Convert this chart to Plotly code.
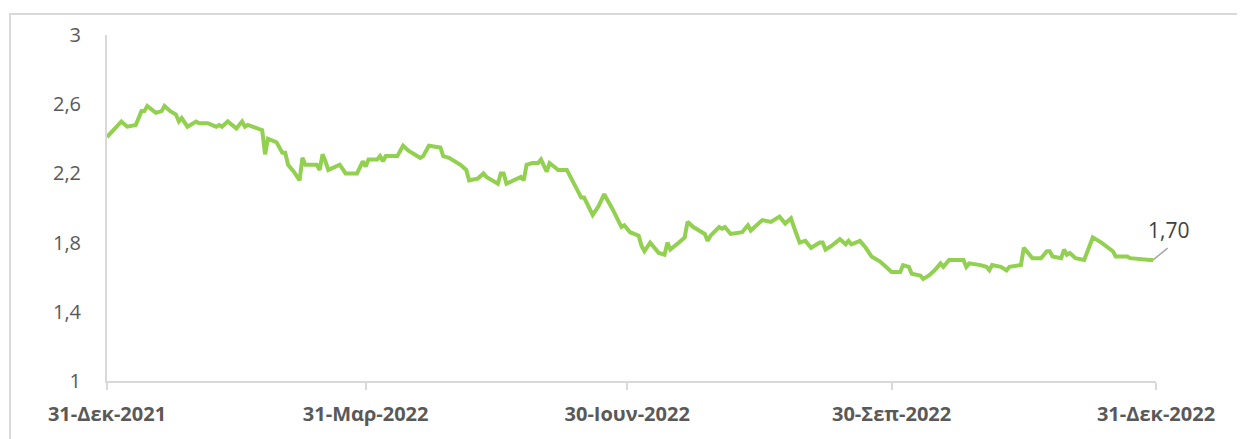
import pandas as pd
import plotly.graph_objects as go

start_date = "2021-12-31"
day_offsets = [
    0, 5, 7, 10, 12, 13, 14, 17, 19, 20,
    22, 24, 25, 26, 28, 31, 32, 34, 35, 38,
    39, 40, 42, 45, 47, 48, 49, 54, 55, 56,
    59, 61, 62, 63, 65, 67, 68, 69, 73, 74,
    75, 76, 77, 81, 83, 87, 89, 90, 91, 94,
    95, 96, 97, 101, 103, 105, 109, 110, 112, 116,
    117, 119, 123, 125, 126, 129, 131, 132, 136, 137,
    138, 139, 144, 145, 146, 148, 150, 151, 153, 154,
    157, 160, 162, 165, 166, 168, 169, 171, 173, 176,
    179, 180, 182, 185, 186, 187, 189, 192, 194, 195,
    196, 199, 201, 202, 204, 206, 208, 209, 210, 213,
    214, 215, 217, 221, 223, 224, 228, 231, 234, 236,
    238, 239, 241, 243, 245, 248, 249, 250, 252, 255,
    257, 258, 259, 262, 264, 266, 269, 271, 273, 276,
    277, 279, 280, 283, 284, 286, 288, 290, 291, 293,
    298, 299, 300, 304, 306, 307, 308, 311, 313, 314,
    318, 319, 322, 325, 327, 328, 329, 332, 333, 334,
    335, 337, 340, 343, 344, 346, 350, 351, 355, 356,
    363, 364,
]
values = [
    2.41, 2.50, 2.47, 2.48, 2.56, 2.56, 2.59, 2.55, 2.56, 2.59,
    2.56, 2.54, 2.50, 2.52, 2.47, 2.50, 2.49, 2.49, 2.49, 2.47,
    2.48, 2.47, 2.50, 2.46, 2.50, 2.47, 2.48, 2.45, 2.31, 2.40,
    2.38, 2.32, 2.32, 2.25, 2.21, 2.16, 2.29, 2.25, 2.25, 2.22,
    2.31, 2.27, 2.22, 2.25, 2.20, 2.20, 2.27, 2.24, 2.28, 2.28,
    2.30, 2.27, 2.30, 2.30, 2.36, 2.33, 2.29, 2.30, 2.36, 2.35,
    2.30, 2.29, 2.25, 2.22, 2.16, 2.17, 2.20, 2.18, 2.14, 2.20,
    2.20, 2.14, 2.18, 2.16, 2.25, 2.26, 2.26, 2.28, 2.21, 2.26,
    2.22, 2.22, 2.16, 2.06, 2.06, 1.99, 1.96, 2.01, 2.08, 1.99,
    1.89, 1.90, 1.86, 1.84, 1.78, 1.75, 1.80, 1.74, 1.73, 1.80,
    1.76, 1.80, 1.83, 1.92, 1.89, 1.87, 1.85, 1.81, 1.84, 1.89,
    1.88, 1.89, 1.85, 1.86, 1.90, 1.87, 1.93, 1.92, 1.95, 1.91,
    1.94, 1.89, 1.80, 1.81, 1.77, 1.80, 1.80, 1.76, 1.78, 1.82,
    1.79, 1.81, 1.79, 1.81, 1.77, 1.72, 1.69, 1.66, 1.63, 1.63,
    1.67, 1.66, 1.62, 1.61, 1.59, 1.61, 1.64, 1.68, 1.66, 1.70,
    1.70, 1.66, 1.68, 1.67, 1.66, 1.64, 1.67, 1.66, 1.64, 1.66,
    1.67, 1.77, 1.71, 1.71, 1.75, 1.75, 1.72, 1.71, 1.76, 1.73,
    1.74, 1.71, 1.70, 1.83, 1.82, 1.80, 1.75, 1.72, 1.72, 1.71,
    1.70, 1.70,
]

x_tick_dates = ["2021-12-31", "2022-03-31", "2022-06-30", "2022-09-30", "2022-12-31"]
x_tick_labels = ["31-Δεκ-2021", "31-Μαρ-2022", "30-Ιουν-2022", "30-Σεπ-2022", "31-Δεκ-2022"]
y_tick_vals = [1, 1.4, 1.8, 2.2, 2.6, 3]
y_tick_labels = ["1", "1,4", "1,8", "2,2", "2,6", "3"]
last_label = "1,70"

dates = pd.Timestamp(start_date) + pd.to_timedelta(day_offsets, unit="D")

# the page body has an 8px default margin, so the figure is a bit smaller
W, H = 1237, 431
ML, MR, MT, MB = 99, 89, 27, 56
pw = W - ML - MR
ph = H - MT - MB
FONT = "Open Sans, Noto Sans, sans-serif"

fig = go.Figure()
fig.add_trace(go.Scatter(
    x=dates, y=values, mode="lines",
    line=dict(color="#92D050", width=4),
    hoverinfo="skip", showlegend=False,
))

# leader line of the data label
fig.add_annotation(
    x=dates[-1], y=values[-1], text="",
    showarrow=True, arrowhead=0, arrowwidth=1.5, arrowcolor="#A6A6A6",
    ax=16, ay=-13, standoff=0,
)
# data label text
fig.add_annotation(
    x=dates[-1], y=values[-1], text=last_label,
    showarrow=False, xshift=15, yshift=30,
    font=dict(family=FONT, size=21, color="#404040"),
)

# outer chart border
fig.add_shape(
    type="rect", xref="paper", yref="paper",
    x0=(2 - ML) / pw, x1=(W + 20 - ML) / pw,
    y0=-(MB + 20) / ph, y1=1 + (MT - 6) / ph,
    line=dict(color="#D9D9D9", width=2), fillcolor="rgba(0,0,0,0)", layer="below",
)

fig.update_layout(
    width=W, height=H,
    margin=dict(l=ML, r=MR, t=MT, b=MB),
    paper_bgcolor="white", plot_bgcolor="white",
    font=dict(family=FONT, color="#595959"),
    xaxis=dict(
        type="date",
        range=[x_tick_dates[0], x_tick_dates[-1]],
        tickvals=x_tick_dates, ticktext=x_tick_labels,
        showgrid=False, zeroline=False,
        showline=True, linecolor="#D9D9D9", linewidth=2,
        ticks="outside", ticklen=7, tickwidth=2, tickcolor="#D9D9D9",
        tickfont=dict(size=20, color="#595959", family=FONT, weight="bold"),
        ticklabelstandoff=7,
    ),
    yaxis=dict(
        range=[1, 3],
        tickvals=y_tick_vals, ticktext=y_tick_labels,
        showgrid=False, zeroline=False,
        showline=True, linecolor="#D9D9D9", linewidth=2,
        ticks="", tickfont=dict(size=20, color="#595959", family=FONT),
        ticklabelstandoff=20,
    ),
)

fig.write_html("out.html")
